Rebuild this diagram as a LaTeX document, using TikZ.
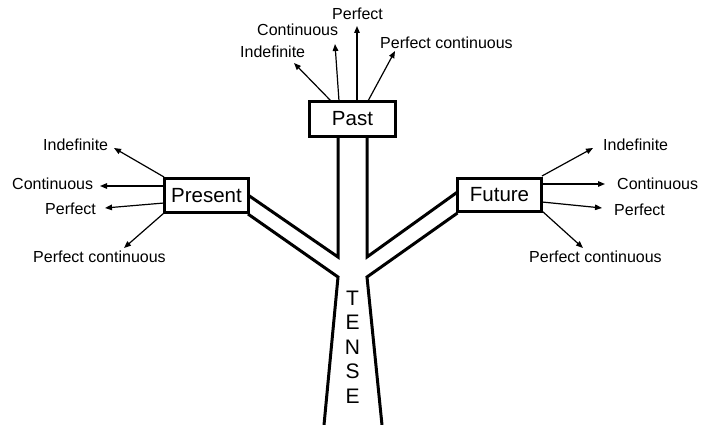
\documentclass[tikz,border=0pt]{standalone}
\usepackage{fontspec}
\setmainfont{Liberation Sans}
\usetikzlibrary{arrows.meta,calc}
\tikzset{
  tbox/.style={draw, line width=3pt, inner sep=0pt, font=\fontsize{20.5}{24}\selectfont},
  lbl/.style={inner sep=0pt, anchor=west, text height=11.5pt, text depth=0pt, font=\fontsize{16}{19}\selectfont},
  arr/.style={line width=1.2pt, -{Triangle[length=7pt,width=5.5pt]}},
  tree/.style={line width=3pt, line join=miter},
}
\begin{document}
\begin{tikzpicture}[x=1pt,y=-1pt]
\useasboundingbox (0,0) rectangle (712,425);
% boxes
\node[tbox, minimum width=86pt, minimum height=35pt] (past) at (352.5,119) {Past};
\node[tbox, minimum width=84pt, minimum height=34pt] (present) at (206.5,195.5) {Present};
\node[tbox, minimum width=84pt, minimum height=33pt] (future) at (499.5,195) {Future};
% tree
\coordinate (pl) at (338,138);
\coordinate (pr) at (367,138);
\coordinate (jl) at (338,257);
\coordinate (jr) at (367,257);
\coordinate (kl) at (338,277);
\coordinate (kr) at (367,277);
\coordinate (bl) at (324,425);
\coordinate (br) at (382,425);
\coordinate (presu) at (248,195);
\coordinate (presl) at (248,214);
\coordinate (futu) at (457.5,192);
\coordinate (futl) at (457.5,213);
\draw[tree] (presu) -- (jl) -- (pl);
\draw[tree] (futu) -- (jr) -- (pr);
\draw[tree] (presl) -- (kl) -- (bl);
\draw[tree] (futl) -- (kr) -- (br);
\node[inner sep=0pt, align=center, font=\fontsize{21}{24.5}\selectfont] (tense) at (352.5,347) {T\\E\\N\\S\\E};
% past labels
\node[lbl] (paind) at (240,52) {Indefinite};
\node[lbl] (pacon) at (257,30) {Continuous};
\node[lbl] (paper) at (332,14) {Perfect};
\node[lbl] (papc) at (380,43) {Perfect continuous};
\coordinate (pa1) at (331,101);
\coordinate (pa2) at (339,101);
\coordinate (pa3) at (357,101);
\coordinate (pa4) at (368,101);
\coordinate (pat1) at (294,63);
\coordinate (pat2) at (335,44);
\coordinate (pat3) at (357,26);
\coordinate (pat4) at (395,51);
\draw[arr] (pa1) -- (pat1);
\draw[arr] (pa2) -- (pat2);
\draw[arr] (pa3) -- (pat3);
\draw[arr] (pa4) -- (pat4);
% present labels
\node[lbl] (prind) at (43,145) {Indefinite};
\node[lbl] (prcon) at (12,184) {Continuous};
\node[lbl] (prper) at (45,209) {Perfect};
\node[lbl] (prpc) at (33,257) {Perfect continuous};
\coordinate (pr1) at (164,177);
\coordinate (pr2) at (164,186);
\coordinate (pr3) at (164,203);
\coordinate (pr4) at (164,213);
\coordinate (prt1) at (114,148);
\coordinate (prt2) at (100,186);
\coordinate (prt3) at (105,208);
\coordinate (prt4) at (124,248);
\draw[arr] (pr1) -- (prt1);
\draw[arr] (pr2) -- (prt2);
\draw[arr] (pr3) -- (prt3);
\draw[arr] (pr4) -- (prt4);
% future labels
\node[lbl] (fuind) at (603,145) {Indefinite};
\node[lbl] (fucon) at (617,184) {Continuous};
\node[lbl] (fuper) at (614,210) {Perfect};
\node[lbl] (fupc) at (529,257) {Perfect continuous};
\coordinate (fu1) at (542,176);
\coordinate (fu2) at (542,184);
\coordinate (fu3) at (542,202);
\coordinate (fu4) at (542,211);
\coordinate (fut1) at (593,148);
\coordinate (fut2) at (605,184);
\coordinate (fut3) at (602,208);
\coordinate (fut4) at (583,248);
\draw[arr] (fu1) -- (fut1);
\draw[arr] (fu2) -- (fut2);
\draw[arr] (fu3) -- (fut3);
\draw[arr] (fu4) -- (fut4);
\end{tikzpicture}
\end{document}
